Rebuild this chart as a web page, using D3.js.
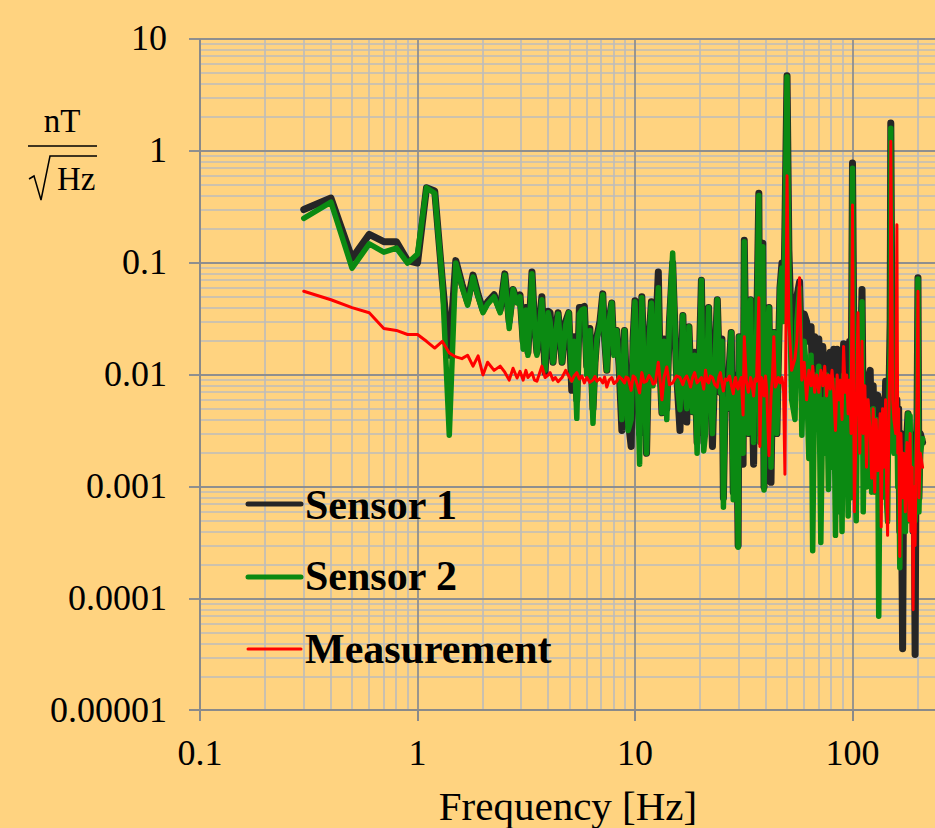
<!DOCTYPE html>
<html><head><meta charset="utf-8">
<script src="https://cdn.jsdelivr.net/npm/d3@7"></script>
<style>html,body{margin:0;padding:0;background:#FFD380;} svg{display:block;}</style>
</head><body><svg id="c" width="935" height="828"></svg>
<script>
// ---- DATA ----
const freq = [
  0.3,0.4,0.5,0.6,0.7,0.8,0.9,1.0,1.1,1.2,1.3,1.4,1.5,1.6,1.7,1.8,1.9,2.0,
  2.1,2.25,2.4,2.52,2.64,2.75,2.87,2.96,3.06,3.15,3.22,3.36,3.45,3.54,3.73,3.86,3.99,4.07,4.2,4.3,4.43,4.62,4.8,4.96,
  5.12,5.25,5.4,5.55,5.7,5.85,6.0,6.2,6.41,6.55,6.68,6.9,7.11,7.25,7.42,7.6,7.82,8.0,8.24,8.45,8.7,8.95,9.1,9.3,9.6,9.8,10.0,10.25,10.5,10.75,11.0,11.3,11.6,11.9,12.1,12.4,12.8,13.05,13.3,13.6,14.0,14.4,14.9,15.5,16.1,16.6,16.9,17.3,17.7,18.0,18.4,18.8,19.3,
  20.2,20.7,21.1,21.5,21.8,22.2,22.7,23.3,23.9,24.3,24.7,25.1,25.5,26.0,26.6,27.2,27.7,28.3,28.7,29.0,29.4,29.8,30.1,30.8,31.4,31.8,32.5,33.2,34.0,34.5,35.1,35.6,36.2,37.1,37.5,38.1,38.7,39.2,39.8,40.3,41.3,42.2,42.8,43.5,44.2,44.9,45.6,46.4,47.4,48.2,48.9,
  50,51,52.5,54.4,55.5,57.1,58.5,60,61.5,63,64.5,65.6,67,68.5,70,71.5,73,74.5,76,77.5,79,80.5,82,83.5,85,86.5,88,89.5,91,92.5,94,95.5,97,98.5,
  100,102,104,106,108,110.6,112,114,116,118,120.6,122.5,124.5,126.5,128.5,130.7,132,134,135.5,137.5,139.5,142,143.5,145,147,149,150,151.5,153,155,158,160,161.5,163,165,167,170,172,175,178,180,182,184,186,188,190,192,194,196,198,200,202,205,210
];
const sensor1 = [
  0.30,0.38,0.11,0.18,0.155,0.155,0.105,0.10,0.47,0.44,0.07,0.015,0.105,0.065,0.045,0.078,0.052,0.038,
  0.045,0.052,0.038,0.08,0.03,0.058,0.046,0.052,0.02,0.04,0.016,0.083,0.03,0.016,0.05,0.0105,0.037,0.036,0.013,0.025,0.036,0.013,0.03,0.036,
  0.0073,0.022,0.006,0.04,0.04,0.041,0.012,0.026,0.005,0.013,0.022,0.03,0.053,0.021,0.011,0.031,0.044,0.016,0.025,0.012,0.0032,0.025,0.009,0.004,0.0023,0.021,0.046,0.01,0.003,0.05,0.013,0.002,0.021,0.045,0.009,0.02,0.083,0.011,0.0046,0.021,0.005,0.03,0.1,0.011,0.0032,0.034,0.009,0.0038,0.027,0.011,0.0047,0.016,0.0025,
  0.07,0.003,0.006,0.016,0.04,0.009,0.0023,0.013,0.047,0.016,0.007,0.021,0.0008,0.007,0.005,0.013,0.024,0.0009,0.006,0.01,0.003,0.0003,0.022,0.007,0.0016,0.16,0.007,0.003,0.047,0.009,0.0016,0.011,0.02,0.42,0.003,0.021,0.15,0.001,0.009,0.02,0.04,0.0011,0.007,0.024,0.006,0.003,0.013,0.06,0.1,0.035,0.21,
  4.7,0.13,0.02,0.012,0.05,0.068,0.01,0.035,0.03,0.02,0.027,0.008,0.022,0.015,0.021,0.006,0.018,0.01,0.015,0.008,0.016,0.006,0.017,0.005,0.017,0.005,0.013,0.004,0.019,0.006,0.012,0.005,0.02,0.004,
  0.78,0.005,0.02,0.03,0.006,0.058,0.004,0.01,0.003,0.009,0.011,0.002,0.008,0.0015,0.006,0.0066,0.001,0.005,0.0012,0.006,0.002,0.0088,0.0015,0.004,0.006,0.03,1.78,0.05,0.005,0.004,0.004,0.006,0.002,0.005,0.0004,0.003,0.000036,0.002,0.0008,0.003,0.0045,0.001,0.003,0.0006,0.002,0.0004,0.0015,0.000032,0.002,0.004,0.074,0.0008,0.003,0.0025
];
const sensor2 = [
  0.25,0.35,0.09,0.148,0.125,0.136,0.10,0.12,0.47,0.42,0.07,0.0029,0.10,0.062,0.042,0.075,0.05,0.036,
  0.043,0.05,0.036,0.078,0.026,0.058,0.044,0.05,0.017,0.038,0.015,0.08,0.028,0.015,0.047,0.011,0.036,0.03,0.013,0.022,0.035,0.013,0.028,0.036,
  0.009,0.02,0.0041,0.035,0.038,0.039,0.01,0.025,0.0037,0.012,0.021,0.028,0.052,0.02,0.011,0.03,0.044,0.015,0.025,0.012,0.004,0.025,0.008,0.0032,0.004,0.02,0.045,0.01,0.0016,0.049,0.012,0.002,0.02,0.044,0.008,0.015,0.06,0.01,0.0046,0.02,0.004,0.03,0.123,0.01,0.0049,0.034,0.008,0.005,0.027,0.01,0.0047,0.015,0.002,
  0.07,0.0021,0.003,0.015,0.04,0.008,0.003,0.012,0.047,0.015,0.007,0.02,0.00066,0.006,0.005,0.012,0.024,0.00077,0.005,0.009,0.003,0.00029,0.022,0.006,0.002,0.155,0.006,0.003,0.047,0.008,0.0025,0.01,0.018,0.40,0.0025,0.02,0.14,0.00094,0.008,0.018,0.04,0.0015,0.006,0.024,0.005,0.003,0.012,0.06,0.09,0.03,0.2,
  4.6,0.1,0.006,0.004,0.03,0.06,0.0029,0.02,0.01,0.0018,0.015,0.00027,0.01,0.004,0.012,0.00032,0.006,0.002,0.01,0.00095,0.008,0.0015,0.009,0.00037,0.007,0.0006,0.006,0.0004,0.01,0.001,0.005,0.00055,0.008,0.0008,
  0.7,0.002,0.0005,0.02,0.003,0.045,0.0006,0.006,0.001,0.005,0.004,0.0009,0.005,0.0009,0.004,0.0025,0.00007,0.003,0.0008,0.004,0.001,0.004,0.0007,0.00049,0.006,0.02,1.6,0.04,0.003,0.002,0.003,0.005,0.001,0.003,0.00019,0.002,0.0006,0.001,0.0004,0.002,0.0045,0.0005,0.0043,0.0006,0.0015,0.0005,0.001,0.0005,0.0015,0.003,0.072,0.0006,0.002,0.0027
];
const measurement = [
  0.056,0.047,0.040,0.036,0.026,0.025,0.023,0.023,0.020,0.0174,0.020,0.0157,0.0145,0.014,0.015,0.012,0.0148,0.010,
  0.013,0.011,0.012,0.0106,0.009,0.0115,0.0094,0.0108,0.009,0.011,0.0095,0.0105,0.009,0.0088,0.012,0.0095,0.01,0.0105,0.009,0.0095,0.0087,0.0095,0.011,0.0098,
  0.0088,0.0098,0.0105,0.0092,0.0098,0.0085,0.0095,0.0086,0.009,0.0097,0.0088,0.0093,0.0085,0.0096,0.0078,0.009,0.0095,0.0084,0.0088,0.0097,0.0092,0.0085,0.0096,0.0094,0.0073,0.0098,0.0095,0.0082,0.0069,0.0105,0.0086,0.0088,0.0099,0.0092,0.0083,0.0085,0.013,0.0088,0.006,0.0095,0.0118,0.0082,0.0085,0.0098,0.0095,0.0082,0.0092,0.0098,0.0088,0.0078,0.0095,0.0105,0.0085,
  0.0095,0.0075,0.011,0.0088,0.0085,0.0098,0.0095,0.0082,0.0078,0.0096,0.0105,0.0085,0.0072,0.0092,0.009,0.0098,0.0082,0.0068,0.0088,0.0095,0.0079,0.0075,0.0085,0.0095,0.0044,0.022,0.0088,0.007,0.0095,0.0082,0.0065,0.0092,0.0088,0.049,0.0023,0.0095,0.0085,0.0065,0.0098,0.0075,0.0019,0.0065,0.0092,0.022,0.0078,0.0085,0.0095,0.0085,0.0095,0.0072,0.0013,
  0.6,0.03,0.011,0.014,0.02,0.074,0.009,0.013,0.006,0.011,0.008,0.012,0.007,0.01,0.007,0.011,0.008,0.012,0.0065,0.01,0.0075,0.011,0.007,0.0032,0.01,0.006,0.009,0.004,0.018,0.007,0.01,0.0045,0.009,0.003,
  0.33,0.0006,0.004,0.036,0.002,0.02,0.003,0.008,0.0015,0.006,0.003,0.0012,0.005,0.0009,0.004,0.0014,0.002,0.0045,0.00044,0.005,0.0015,0.006,0.001,0.00037,0.004,0.02,1.22,0.1,0.006,0.004,0.003,0.22,0.002,0.005,0.00024,0.003,0.0008,0.002,0.0006,0.0025,0.0015,0.0005,0.003,0.0004,0.0015,0.00008,0.001,0.0003,0.0018,0.0065,0.056,0.0008,0.002,0.0015
];
const seriesNames = ["Sensor 1","Sensor 2","Measurement"];
const seriesColors = ["#262626","#0b8a12","#ff0000"];
const yTickValues = [10,1,0.1,0.01,0.001,0.0001,0.00001];
const yTickLabels = ["10","1","0.1","0.01","0.001","0.0001","0.00001"];
const xTickValues = [0.1,1,10,100];
const xTickLabels = ["0.1","1","10","100"];
const xTitle = "Frequency [Hz]";

// ---- CHART ----
const W = 935, H = 828;
const L = 200, R = 935, T = 39, B = 711;
const svg = d3.select('#c');
svg.append('rect').attr('width', W).attr('height', H).attr('fill', '#FFD380');

const x = d3.scaleLog().domain([0.1, 100]).range([L, 852.5]);
const xMax = x.invert(R);
x.domain([0.1, xMax]).range([L, R]);
const y = d3.scaleLog().domain([1e-5, 10]).range([B, T]);

const isMajor = v => Math.abs(Math.log10(v) - Math.round(Math.log10(v))) < 1e-9;
const grid = svg.append('g');
const xg = x.ticks().filter(v => v > 0.1 && v <= xMax);
const yg = y.ticks().filter(v => v > 1e-5);
grid.selectAll('line.xm').data(xg.filter(v => !isMajor(v))).enter().append('line')
  .attr('x1', d => Math.round(x(d))).attr('x2', d => Math.round(x(d))).attr('y1', T).attr('y2', B)
  .attr('stroke', '#bcbcbc').attr('stroke-width', 1.6);
grid.selectAll('line.ym').data(yg.filter(v => !isMajor(v))).enter().append('line')
  .attr('y1', d => Math.round(y(d))).attr('y2', d => Math.round(y(d))).attr('x1', L).attr('x2', R)
  .attr('stroke', '#bcbcbc').attr('stroke-width', 1.6);
grid.selectAll('line.xM').data(xg.filter(isMajor)).enter().append('line')
  .attr('x1', d => Math.round(x(d))).attr('x2', d => Math.round(x(d))).attr('y1', T).attr('y2', B)
  .attr('stroke', '#8f8f8f').attr('stroke-width', 1.8);
grid.selectAll('line.yM').data(yg.filter(isMajor)).enter().append('line')
  .attr('y1', d => Math.round(y(d))).attr('y2', d => Math.round(y(d))).attr('x1', L - 11).attr('x2', R)
  .attr('stroke', '#8f8f8f').attr('stroke-width', 1.8);

svg.append('line').attr('x1', L).attr('x2', L).attr('y1', T).attr('y2', B).attr('stroke', '#8a8a8a').attr('stroke-width', 2);
svg.append('line').attr('x1', L - 11).attr('x2', R).attr('y1', B - 1).attr('y2', B - 1).attr('stroke', '#8a8a8a').attr('stroke-width', 2);
svg.selectAll('line.xt').data(xTickValues).enter().append('line')
  .attr('x1', d => Math.round(x(d))).attr('x2', d => Math.round(x(d))).attr('y1', B - 1).attr('y2', B + 10)
  .attr('stroke', '#8a8a8a').attr('stroke-width', 2);

const font = '"Liberation Serif","Times New Roman",serif';
svg.selectAll('text.yl').data(yTickValues).enter().append('text')
  .attr('x', 167).attr('y', d => y(d) + 11).attr('text-anchor', 'end')
  .style('font-family', font).style('font-size', '36px').attr('fill', '#000')
  .text((d, i) => yTickLabels[i]);
svg.selectAll('text.xl').data(xTickValues).enter().append('text')
  .attr('x', d => x(d)).attr('y', 765).attr('text-anchor', 'middle')
  .style('font-family', font).style('font-size', '36px').attr('fill', '#000')
  .text((d, i) => xTickLabels[i]);
svg.append('text').attr('x', 568).attr('y', 820).attr('text-anchor', 'middle')
  .style('font-family', font).style('font-size', '41px').attr('fill', '#000').text(xTitle);

svg.append('text').attr('x', 62).attr('y', 132).attr('text-anchor', 'middle')
  .style('font-family', font).style('font-size', '33px').text('nT');
svg.append('line').attr('x1', 28).attr('x2', 97).attr('y1', 146).attr('y2', 146).attr('stroke', '#000').attr('stroke-width', 1.5);
svg.append('path').attr('d', 'M29,179 L34,176 L41,200 L50,156 L97,156')
  .attr('fill', 'none').attr('stroke', '#000').attr('stroke-width', 1.5).attr('stroke-linejoin', 'miter');
svg.append('text').attr('x', 57).attr('y', 190)
  .style('font-family', font).style('font-size', '33px').text('Hz');

svg.append('clipPath').attr('id', 'clip').append('rect').attr('x', L).attr('y', T - 5).attr('width', R - L).attr('height', B - T + 5);
const plot = svg.append('g').attr('clip-path', 'url(#clip)');
const mkLine = arr => d3.line().x((d, i) => x(freq[i])).y((d, i) => y(arr[i]))(arr);
const widths = [7, 5.5, 3];
[sensor1, sensor2, measurement].forEach((arr, k) => {
  plot.append('path').attr('d', mkLine(arr)).attr('fill', 'none')
    .attr('stroke', seriesColors[k]).attr('stroke-width', widths[k])
    .attr('stroke-linejoin', 'round').attr('stroke-linecap', 'round');
});

const legY = [504, 577, 649], txtY = [519, 590, 663];
const legW = [5, 5, 3];
seriesNames.forEach((n, k) => {
  svg.append('line').attr('x1', 248).attr('x2', 301).attr('y1', legY[k]).attr('y2', legY[k])
    .attr('stroke', seriesColors[k]).attr('stroke-width', legW[k]).attr('stroke-linecap', 'round');
  svg.append('text').attr('x', 305).attr('y', txtY[k])
    .style('font-family', font).style('font-size', '42px').style('font-weight', 'bold').text(n);
});
</script></body></html>
